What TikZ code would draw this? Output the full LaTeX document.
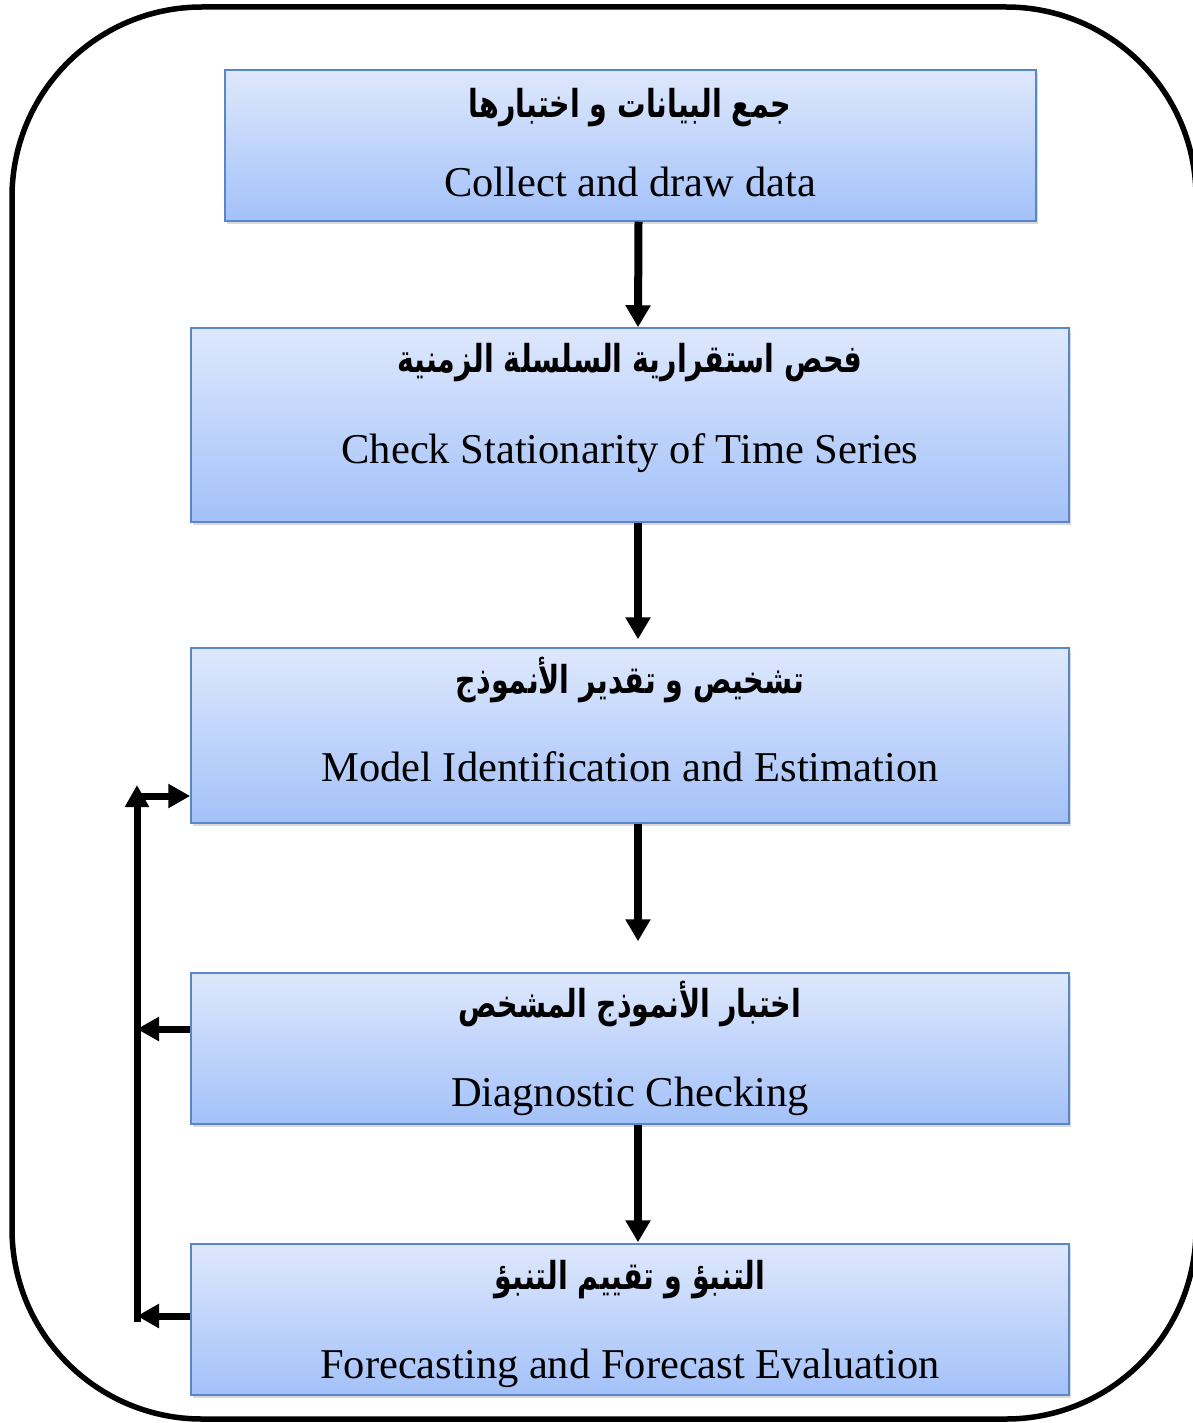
\documentclass[tikz,border=0pt]{standalone}
\usepackage{fontspec}
\setmainfont{Liberation Serif}
\newfontfamily\arabicfont[Script=Arabic]{DejaVu Sans}
\TeXXeTstate=1
\usetikzlibrary{arrows.meta,shadows,calc}
\definecolor{boxtop}{RGB}{222,232,252}
\definecolor{boxbot}{RGB}{163,193,249}
\definecolor{boxline}{RGB}{88,134,200}
\newcommand{\artext}[1]{\scalebox{1}[1.35]{\beginR #1\endR}}
\begin{document}
\begin{tikzpicture}[x=1pt,y=-1pt,
  box/.style={draw=boxline, line width=1.5pt, top color=boxtop, bottom color=boxbot, inner sep=0pt,
    drop shadow={opacity=0.3, shadow xshift=2pt, shadow yshift=-3pt}},
  ar/.style={anchor=base, inner sep=0pt, font={\arabicfont\bfseries\fontsize{28.5}{34}\selectfont}},
  en/.style={anchor=base, inner sep=0pt, font={\fontsize{42.5}{48}\selectfont}},
  flow/.style={line width=8pt, -{Triangle[width=24pt,length=22pt]}},
  back/.style={line width=7pt, -{Triangle[width=23pt,length=22pt]}}]
\useasboundingbox (0,0) rectangle (1192,1423);
\node[draw, line width=5.5pt, rounded corners=190pt, minimum width=1184pt, minimum height=1412pt, inner sep=0pt] (frame) at (604,713) {};

\node[box, minimum width=811pt, minimum height=151pt] (b1) at (630.5,145.5) {};
\node[box, minimum width=878pt, minimum height=194pt] (b2) at (630,425) {};
\node[box, minimum width=878pt, minimum height=175pt] (b3) at (630,735.5) {};
\node[box, minimum width=878pt, minimum height=151pt] (b4) at (630,1048.5) {};
\node[box, minimum width=878pt, minimum height=151pt] (b5) at (630,1319.5) {};

\node[ar] (t1a) at (630,118) {\artext{جمع البيانات و اختبارها}};
\node[en] (t1e) at (630,197) {Collect and draw data};
\node[ar] (t2a) at (630,372) {\artext{فحص استقرارية السلسلة الزمنية}};
\node[en] (t2e) at (630,463) {Check Stationarity of Time Series};
\node[ar] (t3a) at (630,693) {\artext{تشخيص و تقدير الأنموذج}};
\node[en] (t3e) at (630,781) {Model Identification and Estimation};
\node[ar] (t4a) at (630,1017) {\artext{اختبار الأنموذج المشخص}};
\node[en] (t4e) at (630,1106) {Diagnostic Checking};
\node[ar] (t5a) at (630,1289) {\artext{التنبؤ و تقييم التنبؤ}};
\node[en] (t5e) at (630,1378) {Forecasting and Forecast Evaluation};

\draw[flow] ($(b1.south)+(8,0)$) -- ($(b2.north)+(8,0)$);
\draw[flow] ($(b2.south)+(8,0)$) -- ($(b3.north)+(8,-8)$);
\draw[flow] ($(b3.south)+(8,0)$) -- ($(b4.north)+(8,-31)$);
\draw[flow] ($(b4.south)+(8,0)$) -- ($(b5.north)+(8,-1)$);

\coordinate (fbtop) at (137,785);
\coordinate (fbbot) at (137,1322);
\coordinate (fb3) at (137,796);
\coordinate (fb4) at (137,1029);
\coordinate (fb5) at (137,1316);
\draw[back] (fbbot) -- (fbtop);
\draw[back] (fb3) -- (fb3 -| b3.west);
\draw[back] (fb4 -| b4.west) -- (fb4);
\draw[back] (fb5 -| b5.west) -- (fb5);
\end{tikzpicture}
\end{document}
